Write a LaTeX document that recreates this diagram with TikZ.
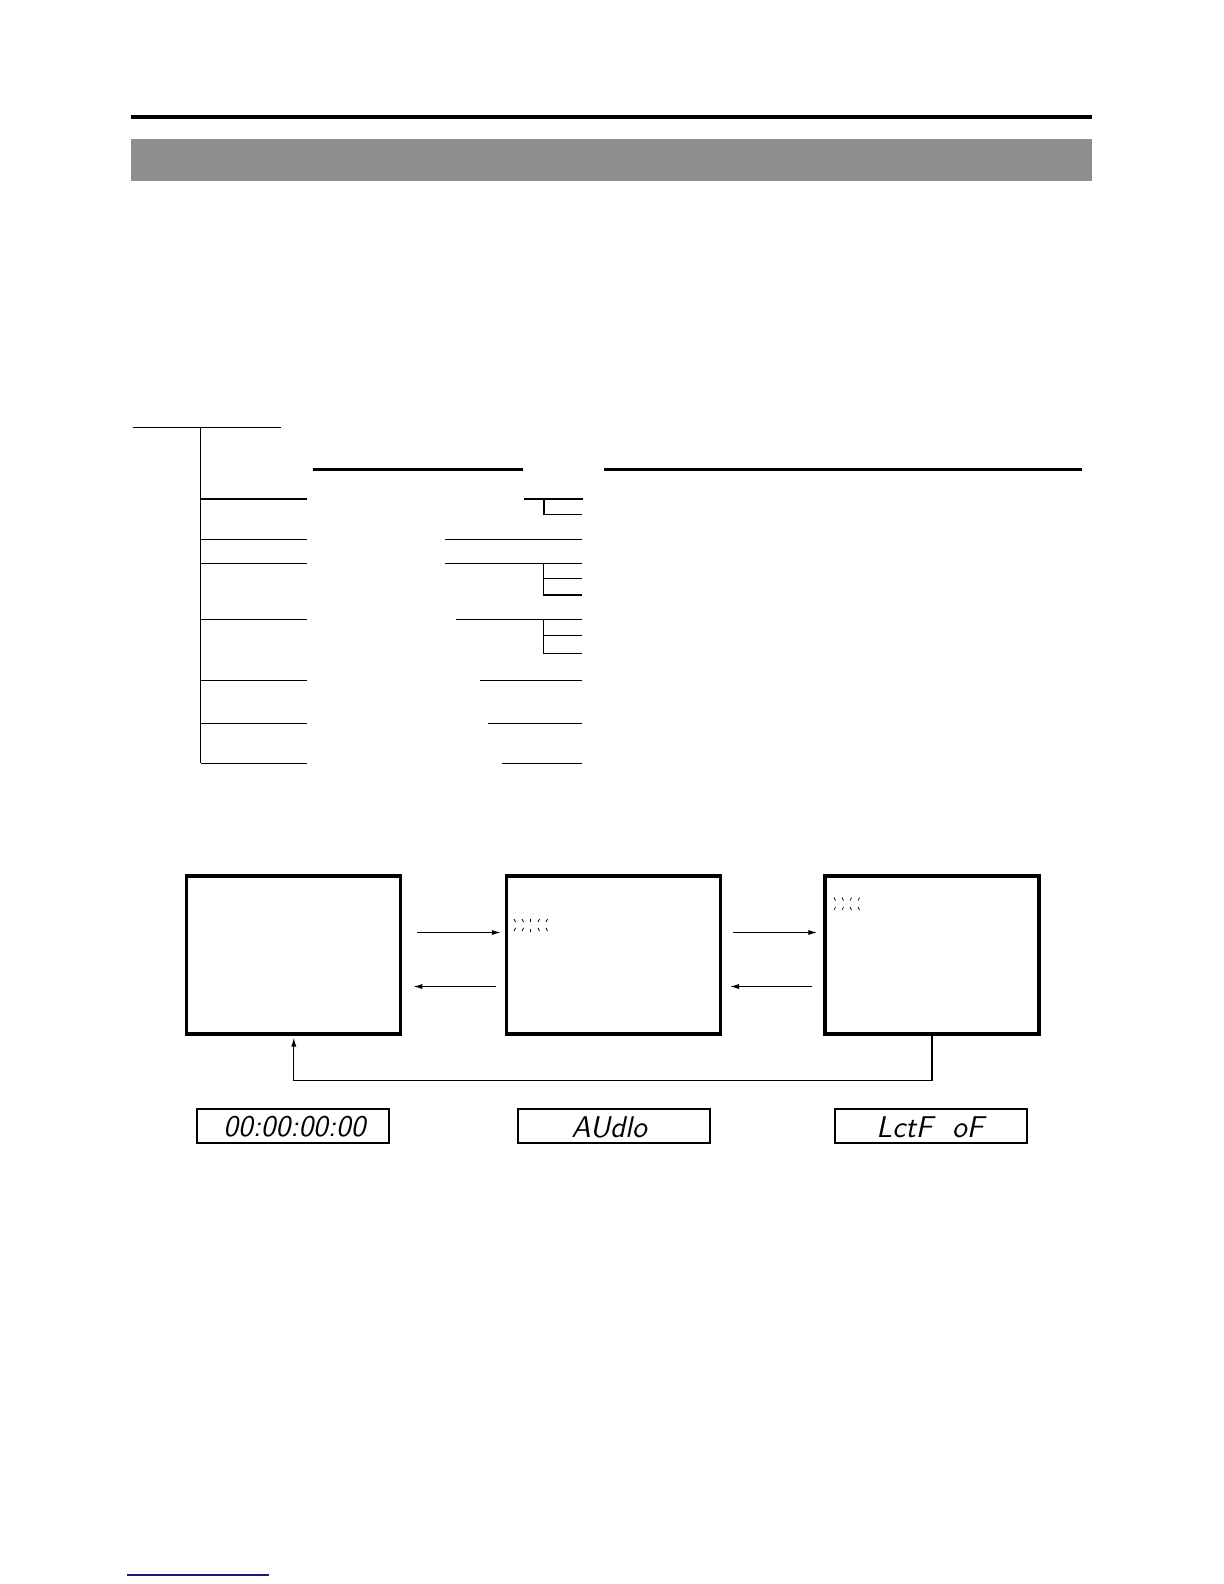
\documentclass[tikz,border=0pt]{standalone}
\usepackage{tikz}
\usetikzlibrary{arrows.meta,positioning,calc}
\definecolor{bandgray}{HTML}{8F8E8E}
\definecolor{darknavy}{HTML}{1A1A7A}

\begin{document}
\begin{tikzpicture}[x=0.5pt,y=-0.5pt,
  treeline/.style={line width=0.6pt},
  headline/.style={line width=1.4pt},
  screen/.style={draw,line width=1.6pt,minimum width=107pt,minimum height=79pt,inner sep=0pt},
  lcd/.style={draw,line width=0.9pt,minimum width=96pt,minimum height=17pt,inner sep=0pt},
  flow/.style={line width=0.6pt,-{Latex[length=4.5pt,width=2.6pt]}},
  segtext/.style={font=\fontsize{15}{15}\selectfont\sffamily\slshape,anchor=west,inner sep=0pt},
  blink/.style={line width=0.35pt}]
  \useasboundingbox (0,0) rectangle (1224,1584);

  % Page header
  \draw[line width=2pt] (131,117) -- (1092,117);
  \fill[bandgray] (131,139) rectangle (1092,181);

  % Menu tree
  \draw[treeline] (132.7,427.3) -- (281,427.3);
  \draw[treeline] (200.7,427.3) -- (200.7,763.3);
  \foreach \y in {499,539.3,563.3,619.3,680.7,723.3,763.3}
    \draw[treeline] (200.7,\y) -- (307.3,\y);
  \draw[headline] (313.3,469.7) -- (522.7,469.7);
  \draw[headline] (604,469.7) -- (1082,469.7);

  % Setting lines
  \draw[treeline] (524,499) -- (583,499);
  \draw[treeline] (544,499) |- (582,514.3);
  \draw[treeline] (445,539.3) -- (582,539.3);
  \draw[treeline] (445,563.3) -- (582,563.3);
  \draw[treeline] (543.3,563.3) |- (582,595);
  \draw[treeline] (543.3,578.3) -- (582,578.3);
  \draw[treeline] (456,619.3) -- (582,619.3);
  \draw[treeline] (543.3,619.3) |- (582,653.3);
  \draw[treeline] (543.3,635.7) -- (582,635.7);
  \draw[treeline] (480,680.7) -- (582,680.7);
  \draw[treeline] (488,723.3) -- (582,723.3);
  \draw[treeline] (502,763.3) -- (582,763.3);

  % Screens
  \node[screen] (scrA) at (293.8,955) {};
  \node[screen] (scrB) at (613.4,955) {};
  \node[screen] (scrC) at (931.9,955) {};

  \draw[flow] ($(scrA.east)+(15,-22.5)$) -- ($(scrB.west)+(-4,-22.5)$);
  \draw[flow] ($(scrB.west)+(-9,31.5)$) -- ($(scrA.east)+(11,31.5)$);
  \draw[flow] ($(scrB.east)+(11,-22.5)$) -- ($(scrC.west)+(-6,-22.5)$);
  \draw[flow] ($(scrC.west)+(-11,31.5)$) -- ($(scrB.east)+(8,31.5)$);
  \draw[flow] (scrC.south) -- ++(0,45) -| ($(scrA.south)+(0,2)$);

  % Blinking marks
  \foreach \i in {0,1} {
    \draw[blink] (514+\i*8,919) -- ++(1.5,3);
    \draw[blink] (514+\i*8,931) -- ++(1.5,-3);
  }
  \draw[blink] (530,918.5) -- ++(0,3);
  \draw[blink] (530,928.5) -- ++(0,3);
  \foreach \i in {3,4} {
    \draw[blink] (515.5+\i*8,919) -- ++(-1.5,3);
    \draw[blink] (515.5+\i*8,931) -- ++(-1.5,-3);
  }
  \foreach \i in {0,1} {
    \draw[blink] (834+\i*8,897.5) -- ++(1.5,3);
    \draw[blink] (834+\i*8,910) -- ++(1.5,-3);
  }
  \foreach \i in {2,3} {
    \draw[blink] (835.5+\i*8,897.5) -- ++(-1.5,3);
    \draw[blink] (835.5+\i*8,910) -- ++(-1.5,-3);
  }

  % Displays
  \node[lcd] (dispA) at (293,1126) {};
  \node[lcd] (dispB) at (614,1126) {};
  \node[lcd] (dispC) at (931,1126) {};
  \node[segtext] (segA) at (223,1127) {00:00:00:00};
  \node[segtext] (segB) at (571,1127) {AUdlo};
  \node[segtext] (segC) at (876,1127) {LctF\ \ oF};

  % Footer
  \draw[darknavy,line width=0.8pt] (127,1575) -- (269,1575);
\end{tikzpicture}
\end{document}
